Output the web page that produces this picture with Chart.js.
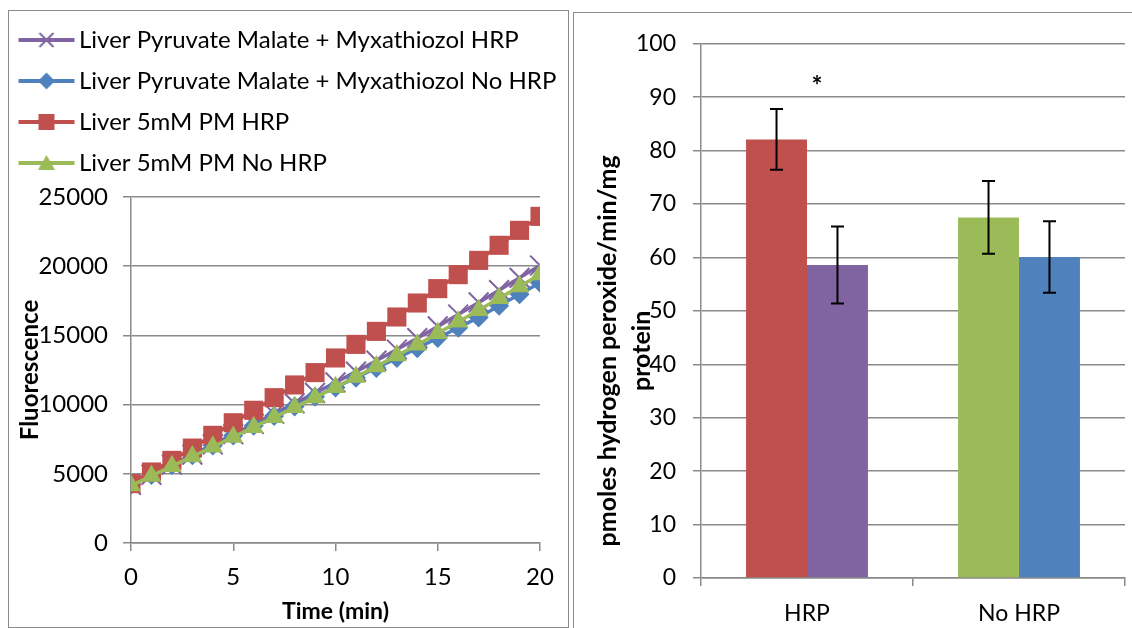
<!DOCTYPE html>
<html>
<head>
<meta charset="utf-8">
<script src="https://cdn.jsdelivr.net/npm/chart.js@4.4.0/dist/chart.umd.min.js"></script>
<style>
body{margin:0;background:#fff;overflow:hidden;width:1132px;height:628px;position:relative}
.panel{position:absolute;border:1px solid #8a8a8a;background:#fff}
#left{left:8px;top:10px;width:559px;height:616px}
#right{left:573px;top:12px;width:570px;height:640px}
canvas{display:block}
</style>
</head>
<body>
<div class="panel" id="left"><canvas id="lineChart" width="559" height="616"></canvas></div>
<div class="panel" id="right"><canvas id="barChart" width="570" height="628"></canvas></div>
<script>
// left chart: fluorescence over time
const minutes = [0,1,2,3,4,5,6,7,8,9,10,11,12,13,14,15,16,17,18,19,20]
const myxHrp   = [4200,4930,5660,6390,7120,7860,8600,9340,10090,10840,11600,12380,13170,13980,14800,15650,16510,17380,18270,19160,20050]
const myxNoHrp = [4200,4920,5630,6340,7050,7760,8470,9170,9870,10560,11240,11940,12650,13360,14080,14810,15550,16300,17150,17980,18800]
const pmHrp    = [4290,5130,5970,6860,7780,8690,9590,10500,11420,12310,13370,14350,15290,16330,17340,18380,19390,20420,21510,22590,23600]
const pmNoHrp  = [4150,4850,5550,6250,6950,7660,8370,9080,9800,10520,11250,12000,12760,13540,14330,15150,15980,16820,17680,18540,19400]
const lineLabels = ['Liver Pyruvate Malate + Myxathiozol HRP','Liver Pyruvate Malate + Myxathiozol No HRP','Liver 5mM PM HRP','Liver 5mM PM No HRP']

// right chart: rates
const groups = ['HRP','No HRP']
const pmRate = [82.1, 67.5]
const pmRateErr = [5.7, 6.8]
const myxRate = [58.6, 60.1]
const myxRateErr = [7.2, 6.7]
const rateTitle = ['pmoles hydrogen peroxide/min/mg','protein']

const RED='#C0504D', GREEN='#9BBB59', PURPLE='#8064A2', BLUE='#4F81BD'
const GRID='#8a8a8a'
Chart.defaults.font.family = "Lato, 'Liberation Sans', sans-serif"
Chart.defaults.color = '#000'

// little legend icon: line with the marker in the middle
function makeIcon(color, shape){
    const c = document.createElement('canvas')
    c.width = 58; c.height = 24
    const g = c.getContext('2d')
    g.strokeStyle = color; g.fillStyle = color
    g.lineWidth = 4
    g.beginPath(); g.moveTo(1,12); g.lineTo(57,12); g.stroke()
    g.beginPath()
    if (shape=='rect'){ g.rect(21,4,16,16); g.fill() }
    if (shape=='triangle'){ g.moveTo(29,4); g.lineTo(37.5,19); g.lineTo(20.5,19); g.closePath(); g.fill() }
    if (shape=='rectRot'){ g.moveTo(29,3.5); g.lineTo(37.5,12); g.lineTo(29,20.5); g.lineTo(20.5,12); g.closePath(); g.fill() }
    if (shape=='crossRot'){ g.lineWidth=2; g.moveTo(22,5); g.lineTo(36,19); g.moveTo(36,5); g.lineTo(22,19); g.stroke() }
    return c
}

const lineColors = [PURPLE, BLUE, RED, GREEN]
const lineShapes = ['crossRot','rectRot','rect','triangle']
const lineRadius = [14, 10, 13.5, 11.5]
const icons = lineColors.map((c,i)=>makeIcon(c, lineShapes[i]))
const lineSeries = [myxHrp, myxNoHrp, pmHrp, pmNoHrp]

const lineChart = new Chart(document.getElementById('lineChart'), {
  type: 'line',
  data: {
    labels: minutes,
    datasets: lineSeries.map((vals,i)=>({
        label: lineLabels[i],
        data: vals,
        borderColor: lineColors[i],
        backgroundColor: lineColors[i],
        borderWidth: 3.5,
        pointStyle: lineShapes[i],
        pointRadius: lineRadius[i],
        pointBackgroundColor: lineColors[i],
        pointBorderColor: lineColors[i],
        pointBorderWidth: lineShapes[i]=='crossRot' ? 2 : 0,
        order: 4-i
    }))
  },
  options: {
    animation: false,
    responsive: false,
    layout: { padding: 0 },
    plugins: {
      tooltip: { enabled: false },
      legend: {
        position: 'top',
        align: 'start',
        labels: {
          usePointStyle: true,
          pointStyleWidth: 41,
          padding: 17,
          font: { size: 24 },
          color: '#000',
          generateLabels: (chart) => chart.data.datasets.map((ds,i)=>({
              text: ds.label, pointStyle: icons[i], datasetIndex: i,
              fillStyle: ds.borderColor, strokeStyle: ds.borderColor, lineWidth: 0, hidden: false
          }))
        }
      },
      // empty spacer between legend and plot
      subtitle: { display: true, text: '', weight: 500, padding: 0, font: { size: 12, lineHeight: 1 } }
    },
    scales: {
      x: {
        type: 'linear', min: 0, max: 20,
        ticks: { stepSize: 5, font: { size: 24 }, padding: 12 },
        grid: { drawOnChartArea: false, tickLength: 8, color: GRID, lineWidth: 1.5 },
        border: { color: GRID, width: 1.5 },
        title: { display: true, text: 'Time (min)', font: { size: 23, weight: 'bold' }, padding: { top: 0, bottom: 2 } },
        afterFit: (s) => { s.height = 84 }
      },
      y: {
        min: 0, max: 25000,
        ticks: { stepSize: 5000, font: { size: 24 }, padding: 15, callback: (v) => String(v) },
        grid: { tickLength: 8, color: GRID, lineWidth: 1.5 },
        border: { color: GRID, width: 1.5 },
        title: { display: true, text: 'Fluorescence', font: { size: 24, weight: 'bold' }, padding: { top: 7, bottom: 0 } },
        afterFit: (s) => { s.width = 122 }
      },
      // empty strip on the right so the plot ends before the legend does
      pad: {
        type: 'linear', position: 'right',
        ticks: { display: false }, grid: { display: false }, border: { display: false },
        afterFit: (s) => { s.width = 28 }
      }
    }
  }
})

// error bars, asterisk and the two-line axis title for the bar chart
const barExtras = {
  id: 'barExtras',
  afterDatasetsDraw(chart){
    const ctx = chart.ctx, y = chart.scales.y
    const errs = [pmRateErr, myxRateErr]
    ctx.save()
    ctx.strokeStyle = '#000'; ctx.lineWidth = 2
    chart.data.datasets.forEach((ds,d)=>{
      chart.getDatasetMeta(d).data.forEach((bar,i)=>{
        const top = y.getPixelForValue(ds.data[i]+errs[d][i])
        const bot = y.getPixelForValue(ds.data[i]-errs[d][i])
        ctx.beginPath()
        ctx.moveTo(bar.x, top); ctx.lineTo(bar.x, bot)
        ctx.moveTo(bar.x-6.5, top); ctx.lineTo(bar.x+6.5, top)
        ctx.moveTo(bar.x-6.5, bot); ctx.lineTo(bar.x+6.5, bot)
        ctx.stroke()
      })
    })
    ctx.restore()
  },
  afterDraw(chart){
    const ctx = chart.ctx, a = chart.chartArea
    ctx.save()
    ctx.fillStyle = '#000'
    ctx.font = "bold 26px Lato, 'Liberation Sans', sans-serif"
    ctx.textAlign = 'center'; ctx.textBaseline = 'alphabetic'
    ctx.fillText('*', chart.scales.x.getPixelForValue(0)+10, chart.scales.y.getPixelForValue(93)+14)
    ctx.font = "bold 25px Lato, 'Liberation Sans', sans-serif"
    ctx.textBaseline = 'middle'
    rateTitle.forEach((t,i)=>{
      ctx.save()
      ctx.translate(a.left-93.5+i*34, (a.top+a.bottom)/2+40)
      ctx.rotate(-Math.PI/2)
      ctx.fillText(t, 0, 0)
      ctx.restore()
    })
    ctx.restore()
  }
}

const barChart = new Chart(document.getElementById('barChart'), {
  type: 'bar',
  data: {
    labels: groups,
    datasets: [
      { label: 'Liver 5mM PM', data: pmRate, backgroundColor: [RED, GREEN], borderWidth: 0 },
      { label: 'Liver Pyruvate Malate + Myxathiozol', data: myxRate, backgroundColor: [PURPLE, BLUE], borderWidth: 0 }
    ]
  },
  options: {
    animation: false,
    responsive: false,
    layout: { padding: { top: 30, left: 0, right: 19, bottom: 0 } },
    datasets: { bar: { categoryPercentage: 0.575, barPercentage: 1 } },
    plugins: { legend: { display: false }, tooltip: { enabled: false } },
    scales: {
      x: {
        ticks: { font: { size: 23 }, padding: 14 },
        grid: { drawOnChartArea: false, tickLength: 8, color: GRID, lineWidth: 1.5 },
        border: { color: GRID, width: 1.5 },
        afterFit: (s) => { s.height = 63 }
      },
      y: {
        min: 0, max: 100,
        ticks: { stepSize: 10, font: { size: 23 }, padding: 17 },
        grid: { tickLength: 8, color: GRID, lineWidth: 1.5 },
        border: { color: GRID, width: 1.5 },
        afterFit: (s) => { s.width = 127 }
      }
    }
  },
  plugins: [barExtras]
})
</script>
</body>
</html>
